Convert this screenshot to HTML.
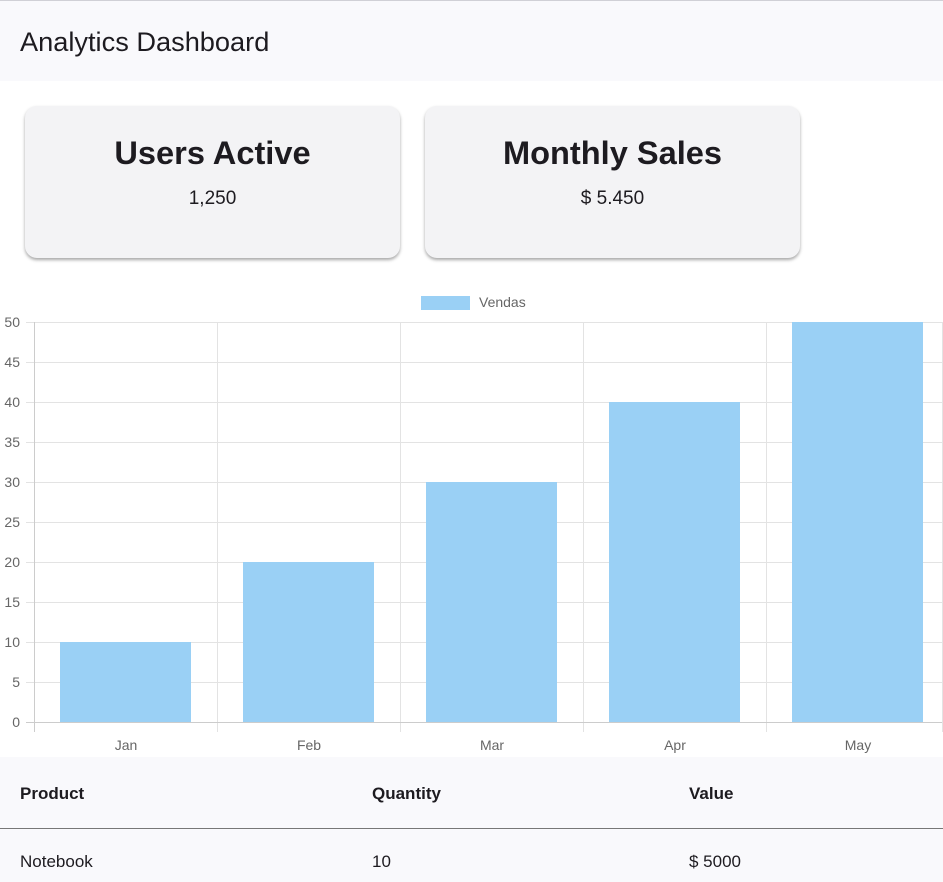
<!DOCTYPE html>
<html><head><meta charset="utf-8"><style>
body{margin:0;width:943px;height:882px;overflow:hidden;background:#fff;font-family:"Liberation Sans",sans-serif;position:relative}
.hdr{position:absolute;left:0;top:0;width:943px;height:80px;border-top:1px solid #d0d0d6;background:#f9f9fc}
.hdr span{position:absolute;left:20px;top:25px;font-size:27.2px;color:#1d1b20}
.card{position:absolute;top:106px;width:375px;height:152px;border-radius:12px;background:#f3f3f5;box-shadow:0 2px 3px rgba(0,0,0,.35);text-align:center;color:#1d1b20}
.t{position:absolute;font-size:32.6px;font-weight:bold;width:100%;top:28px}
.v{position:absolute;font-size:19px;width:100%;top:82px}
.tbl{position:absolute;left:0;top:757px;width:943px;height:125px;background:#f9f9fc;color:#1d1b20}
.tbl .line{position:absolute;left:0;top:71px;width:943px;height:1px;background:#777}
.tbl span{position:absolute;font-size:17px}
.b{font-weight:bold;top:27px}
.r{top:95px}
</style></head><body>
<div class="hdr"><span>Analytics Dashboard</span></div>
<div class="card" style="left:25px"><div class="t">Users Active</div><div class="v">1,250</div></div>
<div class="card" style="left:425px"><div class="t">Monthly Sales</div><div class="v">$ 5.450</div></div>
<svg style="position:absolute;left:0;top:285px" width="943" height="472" font-family="Liberation Sans, sans-serif" font-size="14" fill="#666">
<rect x="421" y="11" width="49" height="14" fill="#9ad0f5"/>
<text x="479" y="22" font-size="14">Vendas</text>
<g stroke="#e3e3e3" stroke-width="1">
<line x1="26" x2="942" y1="37.5" y2="37.5"/><line x1="26" x2="942" y1="77.5" y2="77.5"/><line x1="26" x2="942" y1="117.5" y2="117.5"/><line x1="26" x2="942" y1="157.5" y2="157.5"/><line x1="26" x2="942" y1="197.5" y2="197.5"/><line x1="26" x2="942" y1="237.5" y2="237.5"/><line x1="26" x2="942" y1="277.5" y2="277.5"/><line x1="26" x2="942" y1="317.5" y2="317.5"/><line x1="26" x2="942" y1="357.5" y2="357.5"/><line x1="26" x2="942" y1="397.5" y2="397.5"/>
<line x1="217.5" x2="217.5" y1="37" y2="447"/><line x1="400.5" x2="400.5" y1="37" y2="447"/><line x1="583.5" x2="583.5" y1="37" y2="447"/><line x1="766.5" x2="766.5" y1="37" y2="447"/><line x1="942.5" x2="942.5" y1="37" y2="447"/>
</g>
<line x1="34.5" x2="34.5" y1="37" y2="447" stroke="#ccc"/>
<line x1="26" x2="942" y1="437.5" y2="437.5" stroke="#ccc"/>
<g fill="#9ad0f5">
<rect x="60" y="357" width="131" height="80"/>
<rect x="243" y="277" width="131" height="160"/>
<rect x="426" y="197" width="131" height="240"/>
<rect x="609" y="117" width="131" height="320"/>
<rect x="792" y="37" width="131" height="400"/>
</g>
<g text-anchor="end" font-size="14">
<text x="20" y="42">50</text><text x="20" y="82">45</text><text x="20" y="122">40</text><text x="20" y="162">35</text><text x="20" y="202">30</text><text x="20" y="242">25</text><text x="20" y="282">20</text><text x="20" y="322">15</text><text x="20" y="362">10</text><text x="20" y="402">5</text><text x="20" y="442">0</text>
</g>
<g text-anchor="middle" font-size="14">
<text x="126" y="465">Jan</text><text x="309" y="465">Feb</text><text x="492" y="465">Mar</text><text x="675" y="465">Apr</text><text x="858" y="465">May</text>
</g>
</svg>
<div class="tbl"><div class="line"></div>
<span class="b" style="left:20px">Product</span><span class="b" style="left:372px">Quantity</span><span class="b" style="left:689px">Value</span>
<span class="r" style="left:20px">Notebook</span><span class="r" style="left:372px">10</span><span class="r" style="left:689px">$ 5000</span>
</div>
</body></html>
